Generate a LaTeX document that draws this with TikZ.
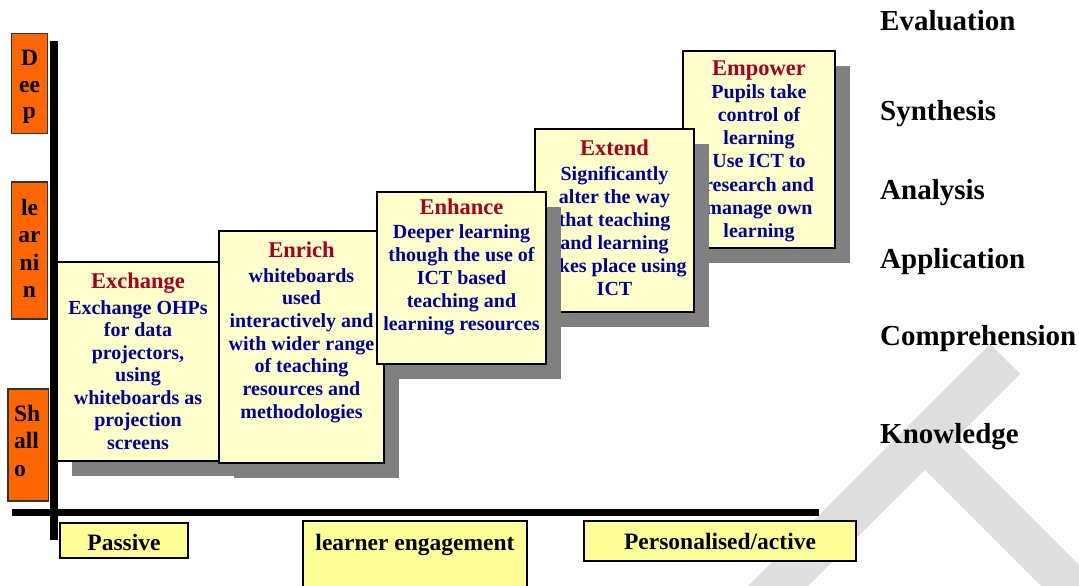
\documentclass[tikz,border=0pt]{standalone}
\usepackage{fontspec}
\setmainfont{Liberation Serif}
\usetikzlibrary{shadows}
\definecolor{cardfill}{HTML}{FFFFCC}
\definecolor{labfill}{HTML}{FFFF99}
\definecolor{orangefill}{HTML}{FF6600}
\definecolor{titlered}{HTML}{A50021}
\definecolor{bodyblue}{HTML}{000099}
\definecolor{shadowgray}{HTML}{808080}
\definecolor{wmgray}{HTML}{DEDEDE}
\newcommand{\mycard}[4]{\parbox[t]{170pt}{\centering\fontsize{22.5}{26}\selectfont\leavevmode\textcolor{titlered}{#1}\par\vspace{#3}\fontsize{20}{#4}\selectfont\color{bodyblue}#2\par}}
\newcommand{\myorange}[3]{\parbox[t]{40pt}{#3\fontsize{23.5}{#2}\selectfont\leavevmode #1\par}}
\begin{document}
\begin{tikzpicture}[x=1pt,y=-1pt,
  card/.style={draw=black, line width=1.8pt, fill=cardfill, inner sep=0pt,
    drop shadow={shadow xshift=15pt, shadow yshift=-15pt, fill=shadowgray, opacity=1}},
  cardtext/.style={anchor=base, inner sep=0pt, font=\bfseries},
  orangebox/.style={draw=black!80, line width=1.5pt, fill=orangefill, inner sep=0pt},
  orangetext/.style={inner sep=0pt, font=\bfseries},
  labbox/.style={draw=black, line width=1.8pt, fill=labfill, inner sep=0pt},
  labtext/.style={anchor=base, inner sep=0pt, font=\bfseries\fontsize{23.5}{26}\selectfont},
  levtext/.style={anchor=base west, inner sep=0pt, font=\bfseries\fontsize{29}{32}\selectfont}]
\useasboundingbox (0,0) rectangle (1079,586);
% watermark
\fill[wmgray] (748,586) -- (990,344) -- (1020,374) -- (954,440) -- (1079,565)
  -- (1079,586) -- (1041,586) -- (925,470) -- (808,586) -- cycle;
% axes
\fill[black] (50,41) rectangle (57.5,540);
\fill[black] (11.5,508.5) rectangle (819,515.8);
% orange depth labels
\node[orangebox, minimum width=36pt, minimum height=100pt] (deep) at (29.3,83.3) {};
\node[orangetext, anchor=base] (deepT) at (29.5,66) {\myorange{D\\ee\\p}{26.5pt}{\centering}};
\node[orangebox, minimum width=36pt, minimum height=137pt] (learn) at (29.3,250.3) {};
\node[orangetext, anchor=base] (learnT) at (29.5,215) {\myorange{le\\ar\\ni\\n}{27.5pt}{\centering}};
\node[orangebox, minimum width=40.5pt, minimum height=112pt] (shallow) at (28,445) {};
\node[orangetext, anchor=base west] (shallowT) at (13.8,421.7) {\myorange{Sh\\all\\o}{27.2pt}{\raggedright}};
% cards
\node[card, minimum width=162pt, minimum height=199pt] (exch) at (138,361.5) {};
\node[cardtext] (exchT) at (138,288) {\mycard{Exchange}{Exchange OHPs\\for data\\projectors,\\using\\whiteboards as\\projection\\screens}{3.5pt}{22.5pt}};
\node[card, minimum width=165pt, minimum height=232pt] (enrich) at (301.5,347) {};
\node[cardtext] (enrichT) at (301.5,257) {\mycard{Enrich}{whiteboards\\used\\interactively and\\with wider range\\of teaching\\resources and\\methodologies}{2.3pt}{22.7pt}};
\node[card, minimum width=152pt, minimum height=197pt] (empower) at (759,149.5) {};
\node[cardtext] (empowerT) at (759,75) {\mycard{Empower}{Pupils take\\control of\\learning\\Use ICT to\\research and\\manage own\\learning}{0.1pt}{23.2pt}};
\node[card, minimum width=159pt, minimum height=183pt] (extend) at (614.5,220.5) {};
\node[cardtext] (extendT) at (614.5,155.7) {\mycard{Extend}{Significantly\\alter the way\\that teaching\\and learning\\takes place using\\ICT}{1.3pt}{23pt}};
\node[card, minimum width=169pt, minimum height=172pt] (enhance) at (461.5,278) {};
\node[cardtext] (enhanceT) at (461.5,214) {\mycard{Enhance}{Deeper learning\\though the use of\\ICT based\\teaching and\\learning resources}{1pt}{23pt}};
% engagement labels
\node[labbox, minimum width=128pt, minimum height=35pt] (passive) at (124,540.5) {};
\node[labtext] (passiveT) at (124,550.7) {Passive};
\node[labbox, minimum width=224pt, minimum height=70pt] (engage) at (415,556) {};
\node[labtext] (engageT) at (415,550) {learner engagement};
\node[labbox, minimum width=272pt, minimum height=40pt] (personal) at (720,541) {};
\node[labtext] (personalT) at (720,549) {Personalised/active};
% levels
\node[levtext] (eval) at (880,30.7) {Evaluation};
\node[levtext] (synth) at (880,120.7) {Synthesis};
\node[levtext] (anal) at (880,199) {Analysis};
\node[levtext] (appl) at (880,268.3) {Application};
\node[levtext] (comp) at (880,345.7) {Comprehension};
\node[levtext] (know) at (880,443.3) {Knowledge};
\end{tikzpicture}
\end{document}
